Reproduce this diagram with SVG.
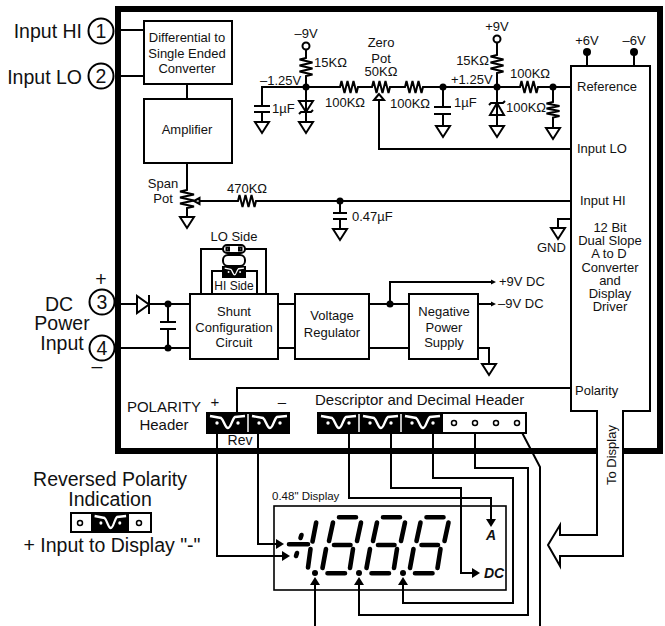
<svg xmlns="http://www.w3.org/2000/svg" xmlns:xlink="http://www.w3.org/1999/xlink" width="665" height="626" viewBox="0 0 665 626">
<style>
text{font-family:"Liberation Sans",Arial,sans-serif;font-size:13px;fill:#111}
.m{text-anchor:middle}.e{text-anchor:end}
.l{font-size:19.5px}.h{font-size:15px}.s{font-size:12px}
.bi{font-weight:bold;font-style:italic;font-size:14px}
.w,.b{fill:none;stroke:#000;stroke-width:2}
.b{fill:#fff}
.t{fill:none;stroke:#000;stroke-width:1.6}
.d{fill:#000}
.seg{stroke:#000;stroke-width:4.6;stroke-linecap:round;fill:none}
</style>
<defs>
<path id="gnd" class="w" d="M-7 0H7L0 11Z"/>
<g id="wave"><path d="M4 4L15 6C18 8 19 16 22 16C25 16 26 7 29 5L39 4" fill="none" stroke="#fff" stroke-width="2.400"/><circle cx="11" cy="11" r="1.700" fill="#fff"/><circle cx="32" cy="11" r="1.700" fill="#fff"/></g>
<path id="ar" class="d" d="M0 0L-8 -5V5Z"/>
<g id="digit"><path class="seg" d="M339 517.300H356M334 545H350.500M327.500 573.300H345M333 522.500L329 541M361 522.500L357 541M326 549L322.500 568M353 549L350 568"/></g>
</defs>
<g id="frame"><path d="M597 451H118V9H660V451H623" fill="none" stroke="#000" stroke-width="6"/></g>
<g id="connectors">
<path class="w" d="M121 30H144M121 76H144M187 84V99M187 163V190l-7 1.500l14 3l-14 3l14 3l-14 3l14 3l-7 1.500V217"/>
<path class="w" d="M199 201H238l1.500 -6l3 12l3 -12l3 12l3 -12l3 12l1.500 -6H340M340 201V213M340 219V228"/>
<path class="w" d="M262 106V87H340l1.500 -6l3 12l3 -12l3 12l3 -12l3 12l1.500 -6H372l1.500 -6l3 12l3 -12l3 12l3 -12l3 12l1.500 -6H405l1.500 -6l3 12l3 -12l3 12l3 -12l3 12l1.500 -6H520l1.500 -6l3 12l3 -12l3 12l3 -12l3 12l1.500 -6H571"/>
<path class="w" d="M262 112V121M306 50V58l-6.500 1.500l13 3l-13 3l13 3l-13 3l13 3l-6.500 1.500V122M443 87V107M443 114V125M497 43V55l-6.500 1.500l13 3l-13 3l13 3l-13 3l13 3l-6.500 1.500V126M553 87V102l-6.500 1.500l13 2.500l-13 2.500l13 2.500l-13 2.500l13 2.500l-6.500 1.500V127"/>
<path class="w" d="M379 100V149H571M340 201H571M571 219H558V228"/>
<path class="w" d="M121 304H137M149 304H190M121 348H190M168 304V322M168 329V348M278 304H295M278 348H295M369 304H409M369 348H409M390 304V282H492M478 304H492M478 348H489V364"/>
<path class="w" d="M201 294V249H223M266 294V249H245M212 294V271H222M257 294V271H246"/>
<path class="w" d="M571 388H237V412"/>
<path class="w" d="M217 434V556H282M258 434V544H276"/>
<path class="w" d="M349 434V498H491V519M391 434V488H461V573H472M433 434V478H513V603H403V585M475 423V468H528V615H359V585M315 626V585"/>
<path class="w" d="M517 423L540 467V626"/>
<use xlink:href="#ar" href="#ar" transform="translate(290 556)"/>
<use xlink:href="#ar" href="#ar" transform="translate(284 544)"/>
<use xlink:href="#ar" href="#ar" transform="translate(491 527) rotate(90)"/>
<use xlink:href="#ar" href="#ar" transform="translate(480 573)"/>
<use xlink:href="#ar" href="#ar" transform="translate(403 577) rotate(-90)"/>
<use xlink:href="#ar" href="#ar" transform="translate(359 577) rotate(-90)"/>
<use xlink:href="#ar" href="#ar" transform="translate(315 577) rotate(-90)"/>
<path class="d" d="M496 282L491 279.500V284.500ZM496 304L491 301.500V306.500Z"/>
</g>
<g id="pin1"><circle class="b" cx="101" cy="31" r="12.500"/><text class="l m" x="101" y="38">1</text><text class="l e" x="82" y="38">Input HI</text></g>
<g id="pin2"><circle class="b" cx="101" cy="76" r="12.500"/><text class="l m" x="101" y="83">2</text><text class="l e" x="82" y="84">Input LO</text></g>
<g id="pin3"><circle class="b" cx="102" cy="302" r="12.500"/><text class="l m" x="102" y="309">3</text><text class="l m" x="101" y="286">+</text></g>
<g id="pin4"><circle class="b" cx="102" cy="348" r="12.500"/><text class="l m" x="102" y="355">4</text><text class="l m" x="97" y="373">–</text></g>
<g id="power-label"><text class="l m" x="59" y="311">DC</text><text class="l m" x="62" y="330">Power</text><text class="l m" x="62" y="350">Input</text></g>
<g id="diff"><rect class="b" x="144" y="21" width="88" height="63"/><text class="m" x="187" y="42">Differential to</text><text class="m" x="187" y="58">Single Ended</text><text class="m" x="187" y="73">Converter</text></g>
<g id="amp"><rect class="b" x="144" y="99" width="88" height="64"/><text class="m" x="187" y="134">Amplifier</text></g>
<g id="span"><text class="m" x="163" y="188">Span</text><text class="m" x="163" y="203">Pot</text><path class="b" d="M194 201L199.500 198V204Z"/><use href="#gnd" xlink:href="#gnd" x="187" y="217"/><text class="m" x="247" y="193">470KΩ</text></g>
<g id="cap047"><circle class="d" cx="340" cy="201" r="3.500"/><path class="w" d="M333 213H347M333 219H347"/><use href="#gnd" xlink:href="#gnd" x="340" y="229"/><text x="352" y="221">0.47µF</text></g>
<g id="neg9"><text class="m" x="306" y="38">–9V</text><circle class="w" cx="306" cy="46" r="3.500"/><text x="314" y="67">15KΩ</text><text x="260" y="85">–1.25V</text><circle class="d" cx="306" cy="87" r="3.500"/><text x="272" y="113">1µF</text><path class="w" d="M254 106H270M254 112H270"/><use href="#gnd" xlink:href="#gnd" x="262" y="122"/><path class="w" d="M299 101H313L306 112ZM299 114L301 112H311L313 110"/><use href="#gnd" xlink:href="#gnd" x="306" y="122"/></g>
<g id="zero"><text x="325" y="107">100KΩ</text><text class="m" x="381" y="47">Zero</text><text class="m" x="381" y="63">Pot</text><text class="m" x="381" y="76">50KΩ</text><path class="b" d="M379 94L374 100H384Z"/><text x="390" y="108">100KΩ</text></g>
<g id="cap1u"><circle class="d" cx="443" cy="87" r="3.500"/><path class="w" d="M434 107H451M434 114H451"/><use href="#gnd" xlink:href="#gnd" x="443" y="126"/><text x="454" y="107">1µF</text></g>
<g id="pos9"><text class="m" x="497" y="31">+9V</text><circle class="w" cx="497" cy="39" r="3.500"/><text class="e" x="489" y="65">15KΩ</text><text x="451" y="84">+1.25V</text><circle class="d" cx="497" cy="87" r="3.500"/><path class="w" d="M490 115H504L497 103ZM489 105L491 103H503L505 101"/><use href="#gnd" xlink:href="#gnd" x="497" y="126"/></g>
<g id="ref"><text x="530" y="78" class="m">100KΩ</text><circle class="d" cx="553" cy="87" r="3.500"/><text x="506" y="112">100KΩ</text><use href="#gnd" xlink:href="#gnd" x="553" y="128"/></g>
<g id="chip"><path class="b" d="M623 411H650V66H571V411H597V535H560V525L548 545L560 566V556H623Z"/>
<path class="w" d="M587 52V66M634 52V66"/><circle class="d" cx="587" cy="52" r="4"/><circle class="d" cx="634" cy="52" r="4"/>
<text class="m" x="587" y="45">+6V</text><text class="m" x="634" y="45">–6V</text>
<text x="577" y="91">Reference</text><text x="577" y="153">Input LO</text><text x="580" y="205">Input HI</text>
<text class="m" x="610" y="232">12 Bit</text><text class="m" x="610" y="245">Dual Slope</text><text class="m" x="609" y="258">A to D</text><text class="m" x="610" y="272">Converter</text><text class="m" x="610" y="285">and</text><text class="m" x="610" y="298">Display</text><text class="m" x="610" y="311">Driver</text>
<text x="575" y="395">Polarity</text><text transform="translate(616 485) rotate(-90)">To Display</text></g>
<g id="gnd-pin"><use href="#gnd" xlink:href="#gnd" x="558" y="228"/><text x="537" y="252">GND</text></g>
<g id="rect-in"><path class="b" d="M137 296V313L149 304.500Z"/><path class="w" d="M149 295V314"/><circle class="d" cx="168" cy="304" r="3.500"/><circle class="d" cx="168" cy="348" r="3.500"/><path class="w" d="M160 322H176M160 329H176"/></g>
<g id="shunt"><rect class="b" x="190" y="294" width="88" height="65"/><text class="m" x="234" y="316">Shunt</text><text class="m" x="234" y="332">Configuration</text><text class="m" x="234" y="347">Circuit</text></g>
<g id="jumper"><text class="m" x="234" y="241">LO Side</text><rect class="b" x="223" y="245" width="22" height="8" rx="4"/><rect class="w" x="226.500" y="247.500" width="2.500" height="3"/><rect class="w" x="239" y="247.500" width="2.500" height="3"/><rect class="b" x="223" y="255" width="22" height="11" rx="5"/><rect class="d" x="222" y="266" width="24" height="12"/><use href="#wave" xlink:href="#wave" transform="translate(222.500 266) scale(.55)"/><text class="m s" x="234" y="290">HI Side</text></g>
<g id="regulator"><rect class="b" x="295" y="294" width="74" height="65"/><text class="m" x="332" y="320">Voltage</text><text class="m" x="332" y="337">Regulator</text></g>
<g id="negps"><circle class="d" cx="390" cy="304" r="3.500"/><rect class="b" x="409" y="294" width="69" height="65"/><text class="m" x="444" y="316">Negative</text><text class="m" x="444" y="332">Power</text><text class="m" x="444" y="347">Supply</text><text x="499" y="286">+9V DC</text><text x="498" y="308">–9V DC</text><use href="#gnd" xlink:href="#gnd" x="489" y="364"/></g>
<g id="polarity-header"><text class="h m" x="164" y="412">POLARITY</text><text class="h m" x="164" y="430">Header</text><text class="h m" x="215" y="407">+</text><text class="h m" x="282" y="407">–</text><rect class="d" x="206" y="412" width="84" height="22"/><path d="M248 414V432" stroke="#fff" stroke-width="1.500"/><use href="#wave" xlink:href="#wave" x="206" y="412"/><use href="#wave" xlink:href="#wave" x="248" y="412"/><text class="m" x="240" y="445" style="font-size:14px">Rev</text></g>
<g id="descriptor-header"><text class="h" x="315" y="405">Descriptor and Decimal Header</text><rect class="b" x="318" y="413" width="208" height="20"/><rect class="d" x="317" y="412" width="126" height="22"/><path d="M359 414V432M401 414V432" stroke="#fff" stroke-width="1.500"/><use href="#wave" xlink:href="#wave" x="317" y="412"/><use href="#wave" xlink:href="#wave" x="359" y="412"/><use href="#wave" xlink:href="#wave" x="401" y="412"/><g fill="#fff" stroke="#000" stroke-width="1.500"><circle cx="454" cy="423" r="2.500"/><circle cx="475" cy="423" r="2.500"/><circle cx="496" cy="423" r="2.500"/><circle cx="517" cy="423" r="2.500"/></g></g>
<g id="reversed"><text class="l m" x="110" y="486">Reversed Polarity</text><text class="l m" x="110" y="506">Indication</text><rect class="b" x="71" y="513" width="80" height="19"/><rect class="d" x="91" y="512" width="38" height="21"/><use href="#wave" xlink:href="#wave" transform="translate(91 512) scale(.9 1)"/><circle cx="80" cy="523" r="2.500" fill="#fff" stroke="#000" stroke-width="1.500"/><circle cx="139" cy="523" r="2.500" fill="#fff" stroke="#000" stroke-width="1.500"/><text class="l m" x="112" y="552">+ Input to Display "-"</text></g>
<g id="display"><text x="272" y="500" style="font-size:11.500px">0.48" Display</text><rect x="274" y="506" width="232" height="84" class="t"/>
<path class="seg" d="M316.200 522.500L312.500 541.500M310.500 549L308 567.500M289 544.300H308M301.500 535L300.500 538M297 553L296 556"/>
<use href="#digit" xlink:href="#digit"/><use href="#digit" xlink:href="#digit" x="44"/><use href="#digit" xlink:href="#digit" x="87.500"/>
<circle class="d" cx="315" cy="573" r="3"/><circle class="d" cx="359" cy="573" r="3"/><circle class="d" cx="403" cy="573" r="3"/>
<text class="bi m" x="491" y="540">A</text><text class="bi" x="484" y="578">DC</text></g>
</svg>
